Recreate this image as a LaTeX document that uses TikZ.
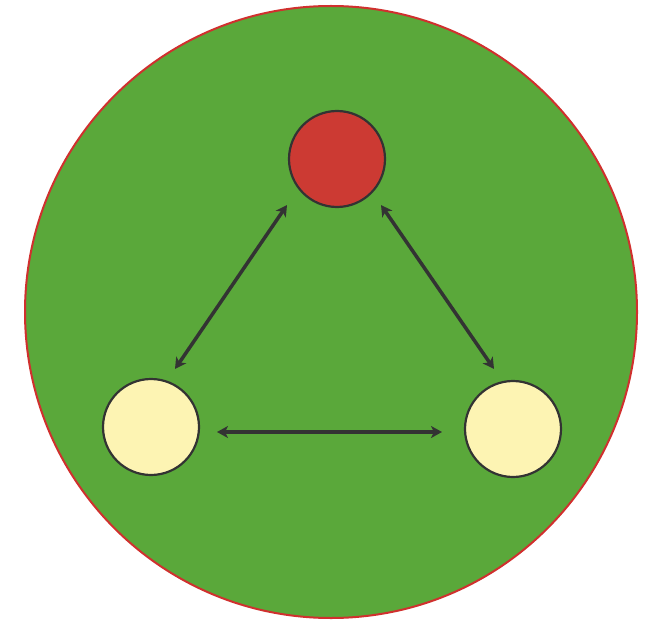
\documentclass[tikz,border=0pt]{standalone}
\usetikzlibrary{arrows.meta}
\definecolor{bggreen}{HTML}{5AA83A}
\definecolor{rimred}{HTML}{D0302E}
\definecolor{topred}{HTML}{CC3A33}
\definecolor{paleyellow}{HTML}{FDF4B3}
\definecolor{ink}{HTML}{333333}
\begin{document}
\begin{tikzpicture}[x=1pt,y=-1pt,
  ball/.style={circle, draw=ink, line width=2.2pt, minimum size=96pt, inner sep=0pt},
  link/.style={draw=ink, line width=3.5pt, {Stealth[length=11pt,width=12pt,inset=3pt]}-{Stealth[length=11pt,width=12pt,inset=3pt]}}]
\useasboundingbox (0,0) rectangle (652,620);
\node[circle, fill=bggreen, draw=rimred, line width=2pt, minimum size=612pt, inner sep=0pt] (bg) at (331,312) {};
\node[ball, fill=topred] (top) at (337,159) {};
\node[ball, fill=paleyellow] (left) at (151,427) {};
\node[ball, fill=paleyellow] (right) at (513,429) {};
\coordinate (tl) at (287,205);
\coordinate (lt) at (175,369);
\coordinate (tr) at (381,205);
\coordinate (rt) at (494,369);
\coordinate (lr) at (217,432);
\coordinate (rl) at (442,432);
\draw[link] (tl) -- (lt);
\draw[link] (tr) -- (rt);
\draw[link] (lr) -- (rl);
\end{tikzpicture}
\end{document}
